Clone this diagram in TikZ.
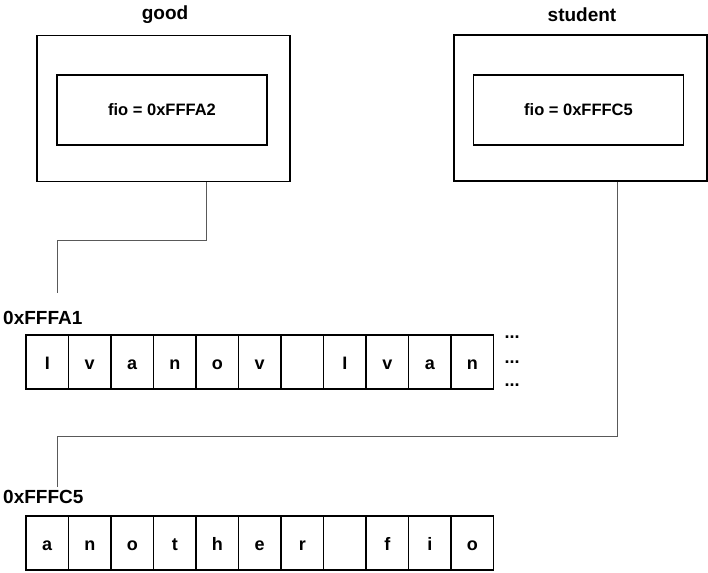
\documentclass[tikz,border=0pt]{standalone}
\usepackage{fontspec}
\setmainfont{Liberation Sans}
\usetikzlibrary{positioning}

\begin{document}
\begin{tikzpicture}[x=1pt, y=-1pt, font=\bfseries,
  frame/.style={draw, line width=1.8pt, minimum width=253pt, minimum height=146pt, inner sep=0pt},
  field/.style={draw, line width=1.8pt, minimum width=210pt, minimum height=70pt, font=\fontsize{16.5}{18}\selectfont\bfseries},
  title/.style={inner sep=0pt, font=\fontsize{19}{22}\selectfont\bfseries},
  cell/.style={draw, line width=1.3pt, minimum width=42.5pt, minimum height=54pt, inner sep=0pt,
    text height=15pt, text depth=0pt, font=\fontsize{18}{20}\selectfont\bfseries},
  link/.style={draw=black!65, line width=1pt}]
\useasboundingbox (0,0) rectangle (708,572);
% structures
\node[frame] (goodbox) at (163.5,108.5) {};
\node[field] (goodfio) at (162,110) {fio = 0xFFFA2};
\node[title] (good) at (165,15) {good};
\node[frame] (studentbox) at (580.5,108) {};
\node[field] (studentfio) at (578.5,110) {fio = 0xFFFC5};
\node[title] (student) at (582,15) {student};
% strings in memory
\node[title, anchor=west] (addrA) at (3,318) {0xFFFA1};
\foreach \c [count=\i] in {I,v,a,n,o,v,{},I,v,a,n}
  \node[cell] (a\i) at ({26+42.5*(\i-0.5)},362) {\c};
\foreach \y [count=\i] in {337,362,385}
  \node[inner sep=0pt, font=\fontsize{18}{20}\selectfont\bfseries] (dots\i) at (512,\y) {...};
\node[title, anchor=west] (addrB) at (3,497) {0xFFFC5};
\foreach \c [count=\i] in {a,n,o,t,h,e,r,{},f,i,o}
  \node[cell] (b\i) at ({26+42.5*(\i-0.5)},543) {\c};
% pointers
\coordinate (tipA) at (57,293);
\coordinate (tipB) at (57,487);
\draw[link] ([xshift=42.5pt]goodbox.south) -- ++(0,58) -| (tipA);
\draw[link] ([xshift=36.5pt]studentbox.south) -- ++(0,255) -| (tipB);
\end{tikzpicture}
\end{document}
